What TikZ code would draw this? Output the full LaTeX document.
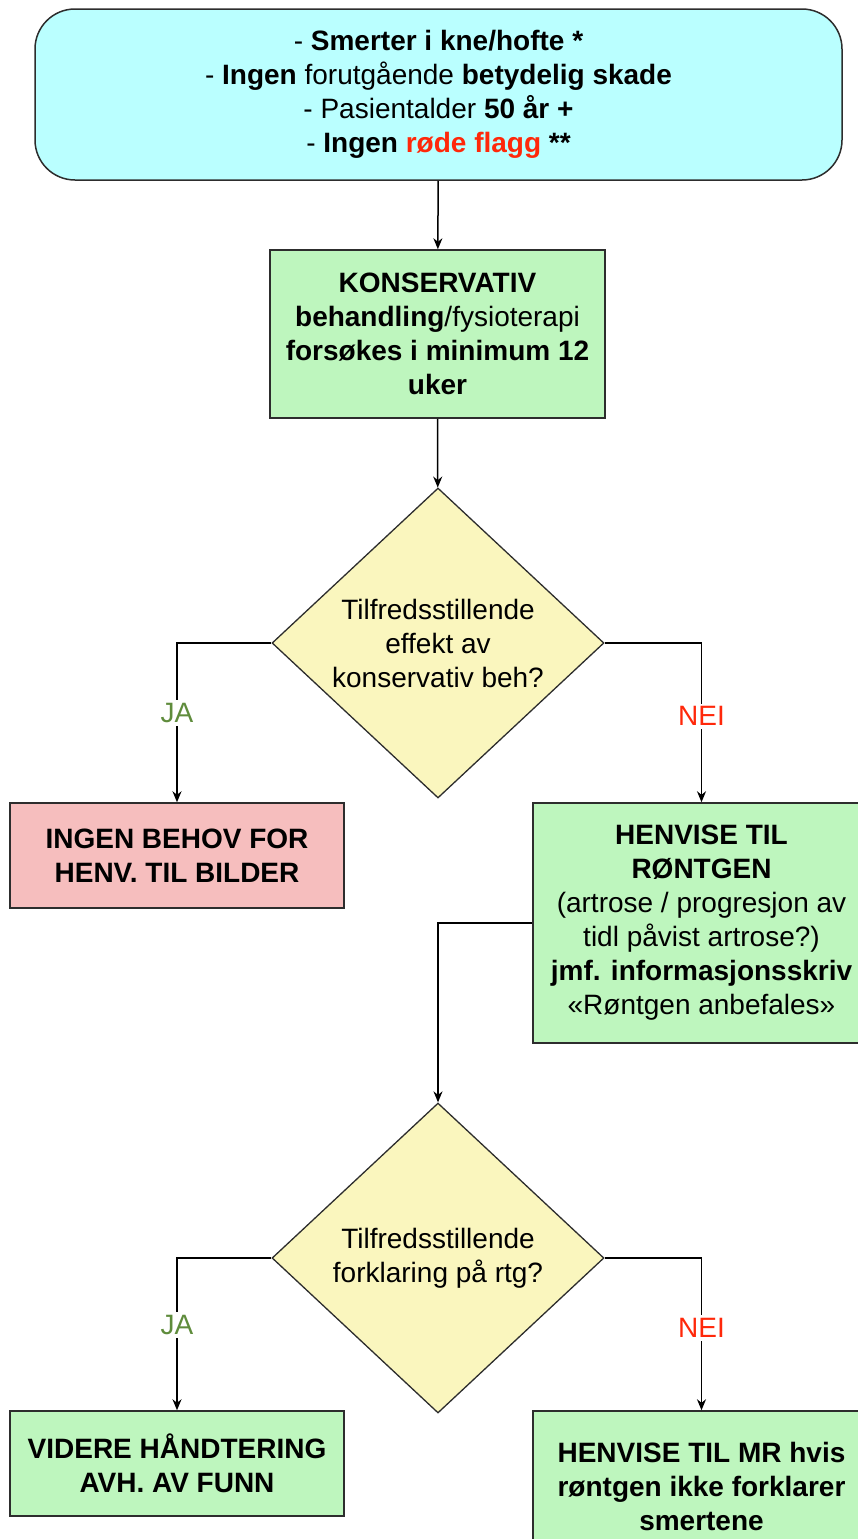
\documentclass[tikz,border=0pt]{standalone}
\usepackage{fontspec}
\setmainfont{Liberation Sans}
\usetikzlibrary{shapes.geometric,arrows.meta}

\definecolor{startblue}{RGB}{186,255,255}
\definecolor{boxgreen}{RGB}{190,246,190}
\definecolor{boxpink}{RGB}{246,190,190}
\definecolor{askyellow}{RGB}{250,246,190}
\definecolor{jagreen}{RGB}{95,140,60}
\definecolor{neired}{RGB}{255,40,10}
\definecolor{edgegray}{RGB}{45,45,45}

\tikzset{
  box/.style={draw=edgegray, line width=1.5pt, align=center, inner sep=0pt},
  greenbox/.style={box, fill=boxgreen},
  ask/.style={diamond, draw=edgegray, line width=1.3pt, fill=askyellow, align=center,
    inner sep=0pt, shape aspect=1.07, minimum width=332pt, minimum height=310pt},
  flow/.style={->, line width=1.5pt},
  answer/.style={fill=white, inner sep=3pt}
}

\begin{document}
\begin{tikzpicture}[x=1pt,y=-1pt,>={Stealth[length=11pt,width=9pt]},
    font=\fontsize{28}{34}\selectfont]
  \useasboundingbox (0,0) rectangle (858,1539);
  \clip (0,0) rectangle (858,1539);

  % start
  \node[box, fill=startblue, rounded corners=40pt, minimum width=807pt, minimum height=171pt]
    (start) at (438.5,94.5)
    {- \textbf{Smerter i kne/hofte *}\\
     - \textbf{Ingen} forutgående \textbf{betydelig skade}\\
     - Pasientalder \textbf{50 år +}\\
     - \textbf{Ingen \textcolor{neired}{røde flagg} **}};
  \node[greenbox, minimum width=335pt, minimum height=168pt] (kons) at (437.5,334)
    {\textbf{KONSERVATIV}\\
     \textbf{behandling}/fysioterapi\\
     \textbf{forsøkes i minimum 12}\\
     \textbf{uker}};

  % first question
  \node[ask] (q1) at (438,643) {Tilfredsstillende\\effekt av\\konservativ beh?};
  \node[box, fill=boxpink, minimum width=334pt, minimum height=105pt] (nobilde) at (177,855.5)
    {\textbf{INGEN BEHOV FOR}\\\textbf{HENV. TIL BILDER}};
  \node[greenbox, minimum width=337pt, minimum height=240pt] (xray) at (701.5,923)
    {\textbf{HENVISE TIL}\\\textbf{RØNTGEN}\\
     (artrose / progresjon av\\tidl påvist artrose?)\\
     \textbf{jmf. informasjonsskriv}\\«Røntgen anbefales»};

  % second question
  \node[ask] (q2) at (438,1258) {Tilfredsstillende\\forklaring på rtg?};
  \node[greenbox, minimum width=334pt, minimum height=105pt] (videre) at (177,1463.5)
    {\textbf{VIDERE HÅNDTERING}\\\textbf{AVH. AV FUNN}};
  \node[greenbox, minimum width=337pt, minimum height=150pt] (mr) at (701.5,1486)
    {\textbf{HENVISE TIL MR hvis}\\\textbf{røntgen ikke forklarer}\\\textbf{smertene}};

  % connectors
  \draw[flow] (start) -- (kons);
  \draw[flow] (kons) -- (q1);
  \draw[flow] (q1.west) -| (nobilde.north) node[answer, pos=0.72, text=jagreen] {JA};
  \draw[flow] (q1.east) -| (xray.north) node[answer, pos=0.73, text=neired] {NEI};
  \draw[flow] (xray.west) -| (q2.north);
  \draw[flow] (q2.west) -| (videre.north) node[answer, pos=0.72, text=jagreen] {JA};
  \draw[flow] (q2.east) -| (mr.north) node[answer, pos=0.73, text=neired] {NEI};
\end{tikzpicture}
\end{document}
